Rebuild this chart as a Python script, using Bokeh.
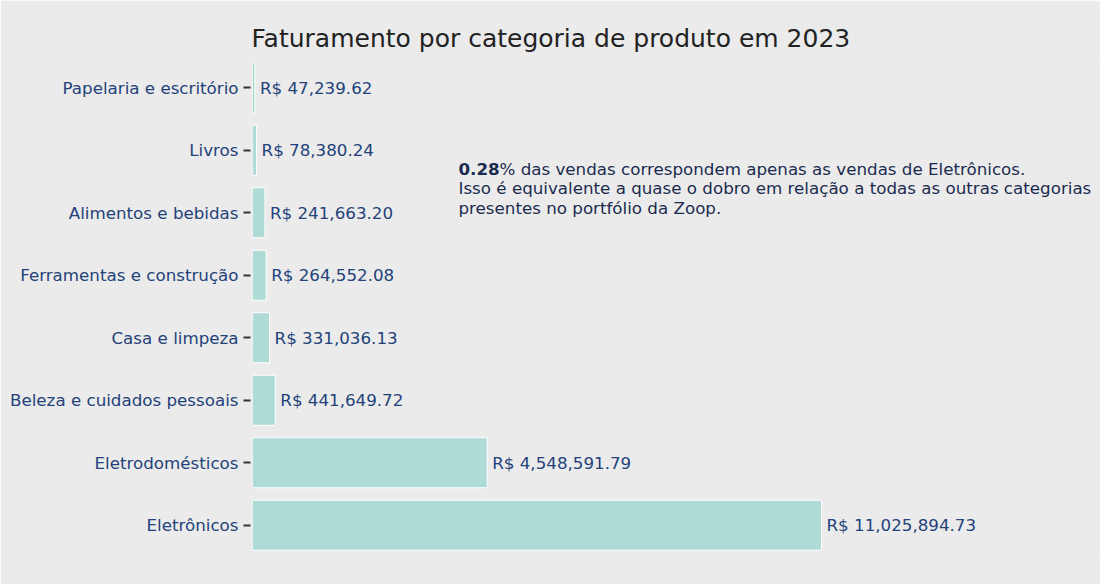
from bokeh.plotting import figure
from bokeh.models import ColumnDataSource, Range1d, FactorRange, Label, Title, FixedTicker
from bokeh.core.properties import value
from bokeh.embed import file_html
from bokeh.resources import INLINE

# ---- data ----
categorias = [
    "Papelaria e escritório",
    "Livros",
    "Alimentos e bebidas",
    "Ferramentas e construção",
    "Casa e limpeza",
    "Beleza e cuidados pessoais",
    "Eletrodomésticos",
    "Eletrônicos",
]
faturamento = [
    47239.62,
    78380.24,
    241663.20,
    264552.08,
    331036.13,
    441649.72,
    4548591.79,
    11025894.73,
]
titulo = "Faturamento por categoria de produto em 2023"
destaque = "0.28"
texto_linhas = [
    "% das vendas correspondem apenas as vendas de Eletrônicos.",
    "Isso é equivalente a quase o dobro em relação a todas as outras categorias",
    "presentes no portfólio da Zoop.",
]

# ---- layout constants ----
W, H = 1100, 584
LEFT, RIGHT, TOP, BOTTOM = 252, 0, 56, 28
FONT = "DejaVu Sans"
BG = "#EBEBEB"
BAR = "#AEDBD5"
LABEL_COLOR = "#23427A"
NOTE_COLOR = "#1B2B50"

frame_w = W - LEFT - RIGHT
max_val = max(faturamento)
x_end = max_val * frame_w / 569.0

rotulos = [f"R$ {v:,.2f}" for v in faturamento]
source = ColumnDataSource(dict(cat=categorias, val=faturamento, lab=rotulos))

p = figure(
    width=W, height=H,
    y_range=FactorRange(factors=categorias[::-1], range_padding=0),
    x_range=Range1d(0, x_end),
    output_backend="svg", toolbar_location=None,
    x_axis_location="above",
    min_border_left=LEFT, min_border_right=RIGHT,
    min_border_top=TOP, min_border_bottom=BOTTOM,
)
p.title = Title(text=titulo, align="left", offset=-1, vertical_align="bottom",
                text_font=FONT, text_font_size="25px", text_font_style="normal",
                text_color="#222222", standoff=8)

p.background_fill_color = BG
p.border_fill_color = BG
p.outline_line_color = BG
p.outline_line_width = 1
p.grid.visible = False

# x axis with no ticks and no labels: only reserves space under the title
xa = p.xaxis[0]
xa.ticker = FixedTicker(ticks=[])
xa.axis_line_color = None
xa.major_tick_line_color = "#333333"
xa.minor_tick_line_color = "#333333"
xa.major_tick_in = 0
xa.major_tick_out = 17
xa.minor_tick_in = 0
xa.minor_tick_out = 0
xa.major_label_standoff = 0

p.hbar(y="cat", right="val", left=0, height=0.8, source=source,
       fill_color=BAR, line_color="white", line_width=1)

p.text(x="val", y="cat", text="lab", source=source, x_offset=5,
       text_baseline="middle", text_align="left",
       text_font=value(FONT), text_font_size="16.7px", text_color=LABEL_COLOR)

ax = p.yaxis[0]
ax.axis_line_color = None
ax.major_tick_line_color = "#333333"
ax.major_tick_line_width = 2
ax.major_tick_in = -2
ax.major_tick_out = 9
ax.minor_tick_line_color = None
ax.major_label_standoff = 5
ax.major_label_text_font = FONT
ax.major_label_text_font_size = "16.7px"
ax.major_label_text_color = LABEL_COLOR

# annotation (screen units relative to the frame, y from bottom)
note_x = 206
ys = [388, 368.5, 349]
p.add_layout(Label(x=note_x, y=ys[0], x_units="screen", y_units="screen",
                   text=destaque, text_font=FONT, text_font_size="16.7px",
                   text_font_style="bold", text_color=NOTE_COLOR,
                   text_baseline="middle"))
p.add_layout(Label(x=note_x + 41, y=ys[0], x_units="screen", y_units="screen",
                   text=texto_linhas[0], text_font=FONT, text_font_size="16.7px",
                   text_color=NOTE_COLOR, text_baseline="middle"))
for t, yy in zip(texto_linhas[1:], ys[1:]):
    p.add_layout(Label(x=note_x, y=yy, x_units="screen", y_units="screen",
                       text=t, text_font=FONT, text_font_size="16.7px",
                       text_color=NOTE_COLOR, text_baseline="middle"))

open("out.html", "w").write(file_html(p, INLINE))
